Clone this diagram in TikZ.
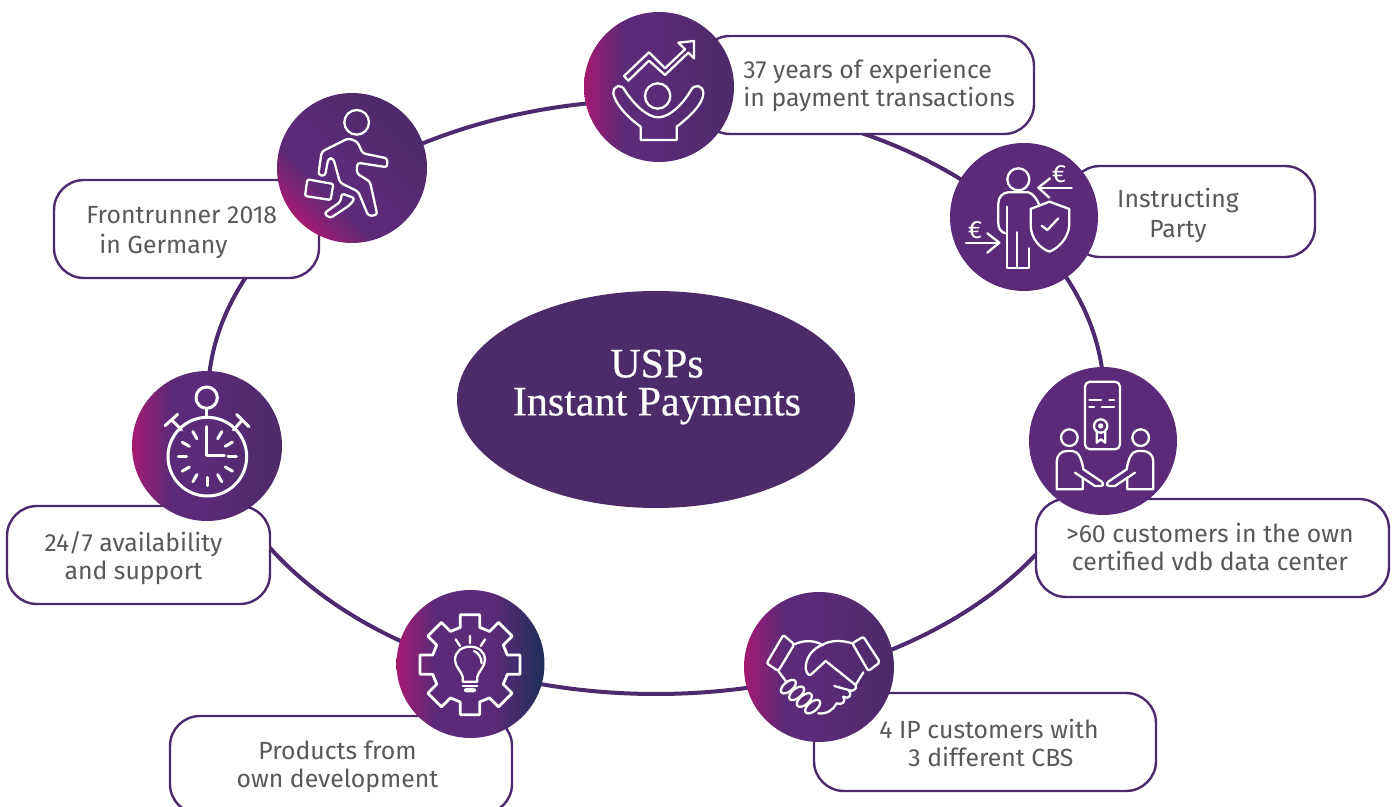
\documentclass[tikz,border=0pt]{standalone}
\usepackage{fontspec}
\setmainfont{Fira Sans}
\newfontfamily\titlefont[FakeBold=0.4]{Liberation Serif}
\usetikzlibrary{shapes.geometric}
\definecolor{uspdark}{HTML}{4D2A68}
\definecolor{uspline}{HTML}{4B2A6D}
\definecolor{uspviolet}{HTML}{5B2A78}
\definecolor{uspmagenta}{HTML}{A31B70}
\definecolor{uspnavy}{HTML}{1F2F56}
\definecolor{usptextgrey}{HTML}{58595B}
\pgfdeclarehorizontalshading{uspfade}{100bp}{color(0bp)=(uspmagenta); color(25bp)=(uspmagenta); color(38bp)=(uspviolet); color(50bp)=(uspviolet); color(75bp)=(uspdark); color(100bp)=(uspdark)}
\pgfdeclarehorizontalshading{uspfadenavy}{100bp}{color(0bp)=(uspmagenta); color(25bp)=(uspmagenta); color(38bp)=(uspviolet); color(58bp)=(uspviolet); color(75bp)=(uspnavy); color(100bp)=(uspnavy)}
\begin{document}
\begin{tikzpicture}[
		x=0.5pt,y=-0.5pt,
		ring/.style={draw=uspline,line width=2pt,ellipse,minimum width=448pt,minimum height=297pt,inner sep=0pt},
		core/.style={fill=uspdark,ellipse,minimum width=199pt,minimum height=108.5pt,inner sep=0pt},
		title/.style={text=white,align=center,inner sep=0pt,font=\titlefont\fontsize{21}{19}\selectfont},
		badge/.style={circle,minimum size=75pt,inner sep=0pt},
		flat/.style={badge,fill=uspviolet},
		fade/.style={badge,shading=uspfade},
		card/.style={draw=uspline,fill=white,line width=1.2pt,rectangle,rounded corners=15pt,minimum height=49pt,inner sep=0pt},
		caption/.style={text=usptextgrey,align=center,inner sep=0pt,font=\fontsize{12.4}{14}\selectfont},
		icon/.style={draw=white,line width=1.15pt,line join=round,line cap=round},
		euro/.style={text=white,inner sep=0pt,font=\fontsize{12.5}{12.5}\selectfont}
	]
		\useasboundingbox (0,0) rectangle (1394,807);

		\node [ring] (ring) at (656,397) {};
		\node [core] (core) at (656,399.5) {};
		\node [title] (title) at (657,387) {USPs\\Instant Payments};

		\node [card,minimum width=167pt] (card_experience) at (867,85) {};
		\node [card,minimum width=122.5pt,minimum height=45.5pt] (card_party) at (1192.5,211.5) {};
		\node [card,minimum width=176.5pt] (card_center) at (1212.5,548) {};
		\node [card,minimum width=171pt] (card_cbs) at (985,742) {};
		\node [card,minimum width=171pt] (card_products) at (341,765) {};
		\node [card,minimum width=131.5pt] (card_support) at (138.5,555) {};
		\node [card,minimum width=132.5pt] (card_frontrunner) at (186.5,229) {};

		\node [fade] (badge_experience) at (659,87) {};
		\node [flat,minimum size=74pt] (badge_party) at (1024,217) {};
		\node [flat,minimum size=74pt] (badge_center) at (1103,441) {};
		\node [fade] (badge_cbs) at (819,667) {};
		\node [badge,minimum size=74pt,shading=uspfadenavy] (badge_products) at (470.5,664) {};
		\node [fade] (badge_support) at (207,446) {};
		\node [fade,shading angle=45] (badge_frontrunner) at (352,168) {};

		\node [caption,align=left,anchor=west] (text_experience) at (743,85) {37 years of experience\\in payment transactions};
		\node [caption] (text_party) at (1178,215) {Instructing\\[1pt]Party};
		\node [caption] (text_center) at (1210,547) {>60 customers in the own\\certified vdb data center};
		\node [caption,align=left,anchor=west] (text_cbs) at (879,743) {4 IP customers with\\\hspace*{14.5pt}3 different CBS};
		\node [caption] (text_products) at (337.5,767) {Products from\\own development};
		\node [caption] (text_support) at (133.5,558) {24/7 availability\\and support};
		\node [caption,align=left,anchor=west] (text_frontrunner) at (86,233) {Frontrunner 2018\\[1pt]\hspace*{6.5pt}in Germany};

		\begin{scope}[shift={(570,0)},scale=1/3]
			\draw [icon] (162,228) -- (237,157) -- (285,205) -- (345,148) -- (325,128) -- (372,123) -- (372,175) -- (355,158) -- (285,225) -- (237,182) -- (175,242) -- cycle;
			\draw [icon] (263,288) circle (38);
			\draw [icon] (212,380) -- (212,420) -- (320,420) -- (320,380) .. controls (360,350) and (400,310) .. (400,280) .. controls (400,255) and (372,250) .. (362,272) .. controls (340,310) and (300,352) .. (265,352) .. controls (230,352) and (190,310) .. (165,272) .. controls (155,250) and (130,255) .. (130,280) .. controls (135,310) and (170,350) .. (212,380);
		\end{scope}

		\begin{scope}[shift={(940,135)},scale=1/3]
			\draw [icon] (235,133) circle (33);
			\draw [icon] (195,295) .. controls (182,290) and (175,280) .. (175,265) -- (175,205) .. controls (175,185) and (190,172) .. (205,172) -- (265,172) .. controls (280,175) and (292,195) .. (298,210);
			\draw [icon] (200,215) -- (200,398) -- (268,398) -- (268,340);
			\draw [icon] (232,398) -- (232,292);
			\draw [icon] (328,200) -- (388,222) -- (388,270) .. controls (385,310) and (355,340) .. (328,350) .. controls (300,340) and (272,310) .. (272,270) -- (272,222) -- cycle;
			\draw [icon] (305,272) -- (322,285) -- (355,250);
			\draw [icon] (395,158) -- (298,158);
			\draw [icon] (330,130) -- (295,158) -- (328,188);
			\draw [icon] (78,323) -- (178,323);
			\draw [icon] (142,295) -- (178,323) -- (142,353);
			\node [euro] (euro_top) at (357,118) {€};
			\node [euro] (euro_bottom) at (105,285) {€};
		\end{scope}

		\begin{scope}[shift={(1020,360)},scale=1/3]
			\draw [icon,rounded corners=2.5pt] (195,65) rectangle (300,268);
			\draw [icon] (208,120) -- (243,120) (268,120) -- (282,120) (208,140) -- (222,140) (245,140) -- (282,140);
			\draw [icon] (242,198) circle (20);
			\fill [white] (242,198) circle (8);
			\draw [icon] (230,215) -- (230,248) -- (243,238) -- (256,248) -- (256,215);
			\foreach \hx/\dir in {0/1,510/-1} {
				\begin{scope}[shift={(\hx,0)},xscale=\dir]
					\draw [icon] (148,233) circle (25);
					\draw [icon] (188,355) -- (188,388) -- (110,388) -- (110,305) .. controls (110,285) and (125,273) .. (140,273) -- (158,273) .. controls (175,275) and (185,295) .. (190,328) -- (245,365) .. controls (252,372) and (250,378) .. (240,378) -- (225,378) -- (165,338);
				\end{scope}
			}
		\end{scope}

		\begin{scope}[shift={(735,585)},scale=1/3]
			\draw [icon,rounded corners=1pt] (145,150) -- (178,178) -- (130,258) -- (95,235) -- cycle;
			\draw [icon,rounded corners=1pt] (352,175) -- (385,155) -- (435,232) -- (400,258) -- cycle;
			\draw [icon] (178,178) .. controls (205,165) and (240,165) .. (262,180);
			\draw [icon] (352,175) .. controls (320,165) and (285,165) .. (262,180) .. controls (235,190) and (212,215) .. (212,250) .. controls (215,270) and (225,275) .. (232,265) -- (272,228) -- (362,300) .. controls (368,312) and (352,322) .. (340,315) -- (298,303);
			\draw [icon] (362,300) -- (385,262);
			\draw [icon] (340,315) .. controls (355,330) and (340,345) .. (325,335);
			\draw [icon] (325,335) .. controls (335,350) and (320,362) .. (305,355);
			\draw [icon] (305,355) .. controls (295,375) and (275,388) .. (250,385);
			\draw [icon] (130,258) -- (152,288);
			\foreach \cx/\cy in {160/305,185/325,208/345,233/365} {
				\draw [icon,rotate around={40:(\cx,\cy)}] (\cx,\cy) ellipse (27 and 14);
			}
		\end{scope}

		\begin{scope}[shift={(390,585)},scale=1/3]
			\begin{scope}[shift={(240,239)}]
				\foreach \a in {0,45,...,315} {
					\draw [icon,line width=1.4pt,rotate=-\a] (-29,-112) -- (-29,-150) -- (29,-150) -- (29,-112) -- (58.7,-99.7);
				}
			\end{scope}
			\draw [icon] (240,152) -- (240,175) (197,163) -- (210,183) (285,163) -- (272,183);
			\draw [icon] (218,290) -- (218,275) .. controls (215,260) and (195,245) .. (195,225) .. controls (195,200) and (215,185) .. (240,185) .. controls (265,185) and (285,200) .. (285,225) .. controls (285,245) and (265,260) .. (262,275) -- (262,290) -- cycle;
			\draw [icon] (218,303) -- (262,303);
			\draw [icon,rounded corners=0.8pt] (225,312) rectangle (255,319);
			\draw [icon] (252,198) .. controls (265,203) and (275,218) .. (275,235);
		\end{scope}

		\begin{scope}[shift={(125,365)},scale=1/3,icon/.append style={line width=1.5pt}]
			\draw [icon] (247,275) circle (118);
			\draw [icon] (245,98) circle (32);
			\draw [icon] (245,130) -- (245,157);
			\draw [icon] (120,182) -- (158,148) (140,165) -- (170,195);
			\draw [icon] (335,148) -- (372,185) (352,165) -- (325,195);
			\draw [icon] (245,185) -- (245,272) -- (298,272);
			\begin{scope}[shift={(247,275)}]
				\foreach \a in {30,60,...,330} {
					\draw [icon,rotate=-\a] (0,-62) -- (0,-87);
				}
			\end{scope}
		\end{scope}

		\begin{scope}[shift={(270,90)},scale=1/3]
			\draw [icon] (260,97) circle (37);
			\draw [icon,rounded corners=1.5pt] (155,185) -- (235,145) -- (262,155) -- (278,190) -- (352,205) -- (352,232) -- (262,218) -- (260,250) -- (300,275) -- (322,375) -- (295,378) -- (265,305) -- (210,278) -- (190,205) -- (175,205) -- (165,258) -- (145,255) -- cycle;
			\draw [icon,rounded corners=1.5pt] (215,310) -- (255,325) -- (240,345) -- (180,385) -- (162,370) -- (212,335) -- cycle;
			\draw [icon,rounded corners=1pt] (112,268) -- (190,282) -- (182,330) -- (105,318) -- cycle;
		\end{scope}
	\end{tikzpicture}
\end{document}
